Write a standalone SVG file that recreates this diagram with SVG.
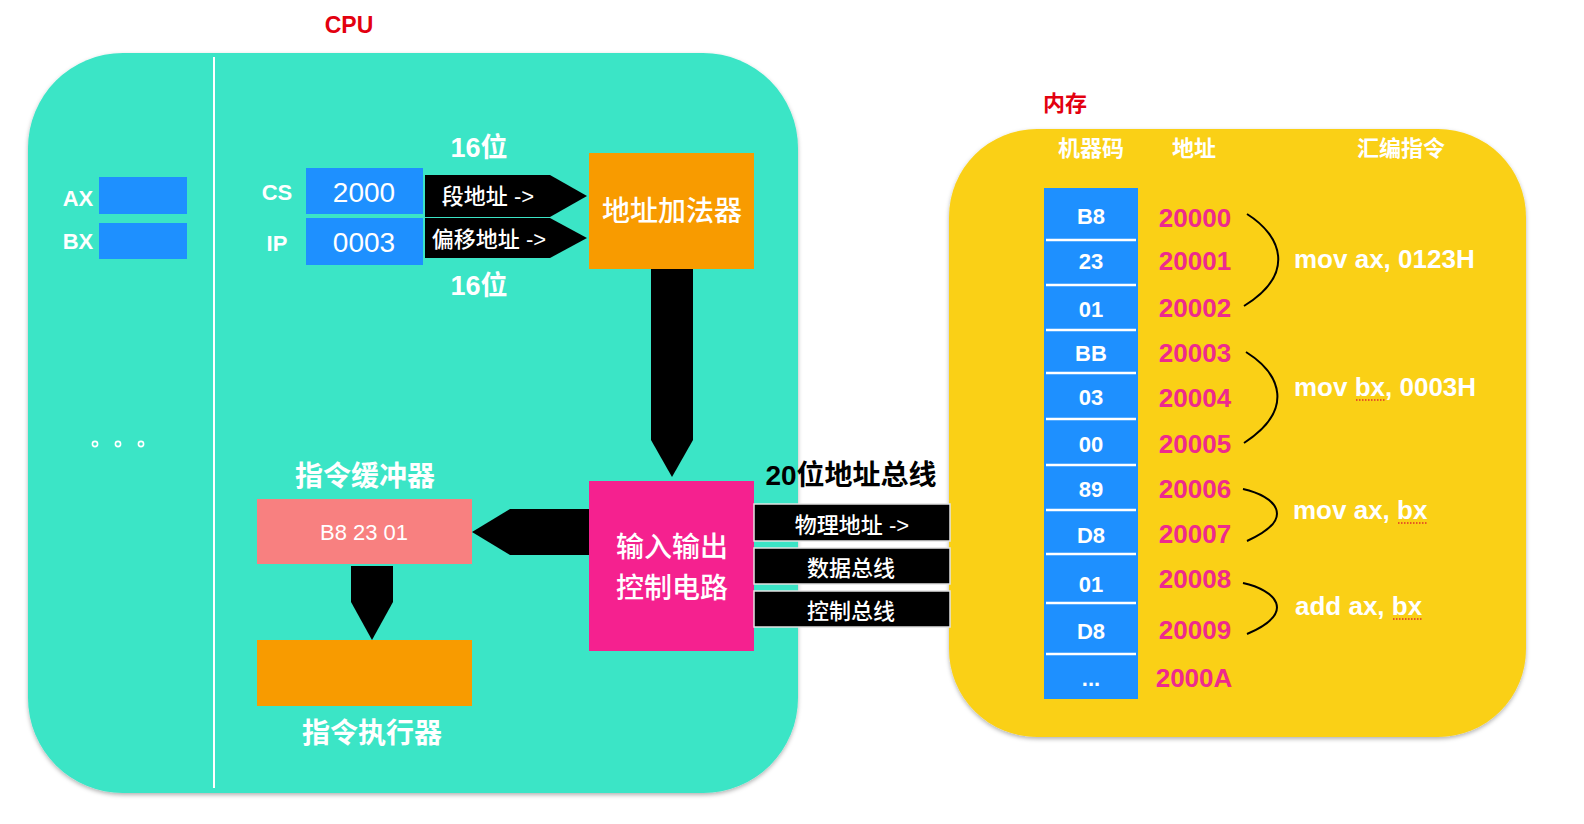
<svg xmlns="http://www.w3.org/2000/svg" width="1584" height="824" viewBox="0 0 1584 824">
<style>
  text { font-family: "Liberation Sans", "Noto Sans CJK SC", sans-serif; }
  .w { fill: #ffffff; }
  .b { font-weight: bold; }
  .m { font-weight: 500; }
  .mid { text-anchor: middle; }
  .reg { fill: #1E90FF; }
  .arrow { fill: #000000; }
  .bus { fill: #000000; stroke: #e2e2e2; stroke-width: 1.5; }
  .brace { fill: none; stroke: #000000; stroke-width: 2; }
  .addr { fill: #EE2A8D; font-weight: bold; font-size: 26px; text-anchor: middle; }
  .code { fill: #ffffff; font-weight: bold; font-size: 22px; text-anchor: middle; }
  .asm { fill: #ffffff; font-weight: bold; font-size: 26px; }
  .sep { stroke: #ffffff; stroke-width: 2.5; }
  .squig { stroke: #E0302A; stroke-width: 1.5; stroke-dasharray: 1.5 1.5; }
</style>
<defs>
  <filter id="shadow" x="-5%" y="-5%" width="110%" height="110%">
    <feDropShadow dx="0" dy="2" stdDeviation="2" flood-color="#000" flood-opacity="0.3"/>
  </filter>
</defs>
<rect width="1584" height="824" fill="#ffffff"/>

<g id="cpu">
  <rect x="28" y="53" width="770" height="740" rx="95" ry="95" fill="#3BE5C6" filter="url(#shadow)"/>
  <line x1="214" y1="57" x2="214" y2="788" stroke="#ffffff" stroke-width="2"/>
  <text x="349" y="33" class="b mid" font-size="23" fill="#E3000F">CPU</text>
  <circle cx="95" cy="444" r="2.6" fill="none" stroke="#ffffff" stroke-width="1.6"/>
  <circle cx="118" cy="444" r="2.6" fill="none" stroke="#ffffff" stroke-width="1.6"/>
  <circle cx="141" cy="444" r="2.6" fill="none" stroke="#ffffff" stroke-width="1.6"/>
</g>

<g id="reg-ax">
  <text x="78" y="206" class="w b mid" font-size="22">AX</text>
  <rect x="99" y="177" width="88" height="37" class="reg"/>
</g>
<g id="reg-bx">
  <text x="78" y="249" class="w b mid" font-size="22">BX</text>
  <rect x="99" y="223" width="88" height="36" class="reg"/>
</g>
<g id="reg-cs">
  <text x="277" y="200" class="w b mid" font-size="22">CS</text>
  <rect x="306" y="168" width="117" height="46" class="reg"/>
  <text x="364" y="202" class="w mid" font-size="28">2000</text>
</g>
<g id="reg-ip">
  <text x="277" y="251" class="w b mid" font-size="22">IP</text>
  <rect x="306" y="218" width="117" height="47" class="reg"/>
  <text x="364" y="252" class="w mid" font-size="28">0003</text>
</g>
<g id="label-16-top">
  <text x="479" y="157" class="w b mid" font-size="27">16位</text>
</g>
<g id="label-16-bottom">
  <text x="479" y="295" class="w b mid" font-size="27">16位</text>
</g>

<g id="adder">
  <rect x="589" y="153" width="165" height="116" fill="#F89B00"/>
  <text x="672" y="221" class="w m mid" font-size="28">地址加法器</text>
</g>

<g id="io">
  <rect x="589" y="481" width="165" height="170" fill="#F5218F"/>
  <text x="672" y="557" class="w m mid" font-size="28">输入输出</text>
  <text x="672" y="598" class="w m mid" font-size="28">控制电路</text>
</g>

<g id="buffer">
  <text x="365" y="486" class="w b mid" font-size="28">指令缓冲器</text>
  <rect x="257" y="499" width="215" height="65" fill="#F88080"/>
  <text x="364" y="540" class="w mid" font-size="22" style="font-weight:500">B8 23 01</text>
</g>

<g id="executor">
  <rect x="257" y="640" width="215" height="66" fill="#F89B00"/>
  <text x="372" y="743" class="w b mid" font-size="28">指令执行器</text>
</g>

<g id="memory">
  <text x="1065" y="111" class="b mid" font-size="22" fill="#E3000F">内存</text>
  <rect x="949" y="129" width="577" height="608" rx="88" ry="88" fill="#FAD015" filter="url(#shadow)"/>
  <text x="1091" y="156" class="w b mid" font-size="22">机器码</text>
  <text x="1194" y="156" class="w b mid" font-size="22">地址</text>
  <text x="1401" y="156" class="w b mid" font-size="22">汇编指令</text>
</g>

<g id="memory-cells">
  <rect x="1044" y="188" width="94" height="511" fill="#1E90FF"/>
  <line x1="1046" y1="240" x2="1136" y2="240" class="sep"/>
  <line x1="1046" y1="285" x2="1136" y2="285" class="sep"/>
  <line x1="1046" y1="330" x2="1136" y2="330" class="sep"/>
  <line x1="1046" y1="373" x2="1136" y2="373" class="sep"/>
  <line x1="1046" y1="419" x2="1136" y2="419" class="sep"/>
  <line x1="1046" y1="465" x2="1136" y2="465" class="sep"/>
  <line x1="1046" y1="510" x2="1136" y2="510" class="sep"/>
  <line x1="1046" y1="554" x2="1136" y2="554" class="sep"/>
  <line x1="1046" y1="603" x2="1136" y2="603" class="sep"/>
  <line x1="1046" y1="654" x2="1136" y2="654" class="sep"/>
  <text x="1091" y="224" class="code">B8</text>
  <text x="1091" y="269" class="code">23</text>
  <text x="1091" y="317" class="code">01</text>
  <text x="1091" y="361" class="code">BB</text>
  <text x="1091" y="405" class="code">03</text>
  <text x="1091" y="452" class="code">00</text>
  <text x="1091" y="497" class="code">89</text>
  <text x="1091" y="543" class="code">D8</text>
  <text x="1091" y="592" class="code">01</text>
  <text x="1091" y="639" class="code">D8</text>
  <text x="1091" y="686" class="code">...</text>
</g>

<g id="addresses">
  <text x="1195" y="227" class="addr">20000</text>
  <text x="1195" y="270" class="addr">20001</text>
  <text x="1195" y="317" class="addr">20002</text>
  <text x="1195" y="362" class="addr">20003</text>
  <text x="1195" y="407" class="addr">20004</text>
  <text x="1195" y="453" class="addr">20005</text>
  <text x="1195" y="498" class="addr">20006</text>
  <text x="1195" y="543" class="addr">20007</text>
  <text x="1195" y="588" class="addr">20008</text>
  <text x="1195" y="639" class="addr">20009</text>
  <text x="1194" y="687" class="addr">2000A</text>
</g>

<g id="instructions">
  <text x="1294" y="268" class="asm">mov ax, 0123H</text>
  <text x="1294" y="396" class="asm">mov bx, 0003H</text>
  <line x1="1356" y1="400" x2="1386" y2="400" class="squig"/>
  <text x="1293" y="519" class="asm">mov ax, bx</text>
  <line x1="1398" y1="523" x2="1428" y2="523" class="squig"/>
  <text x="1295" y="615" class="asm">add ax, bx</text>
  <line x1="1393" y1="619" x2="1423" y2="619" class="squig"/>
</g>

<g id="connectors">
  <polygon class="arrow" points="425,175 550,175 587,196 550,217 425,217"/>
  <text x="488" y="204" class="w m mid" font-size="22">段地址 -&gt;</text>
  <polygon class="arrow" points="425,218 550,218 587,238 550,258 425,258"/>
  <text x="489" y="247" class="w m mid" font-size="22">偏移地址 -&gt;</text>
  <polygon class="arrow" points="651,269 693,269 693,440 672,477 651,440"/>
  <polygon class="arrow" points="589,509 510,509 472,532 510,555 589,555"/>
  <polygon class="arrow" points="351,566 393,566 393,602 372,640 351,602"/>
  <text x="851" y="485" class="b mid" font-size="28" fill="#000000">20位地址总线</text>
  <rect x="754" y="504" width="196" height="37" class="bus"/>
  <text x="852" y="533" class="w m mid" font-size="22">物理地址  -&gt;</text>
  <rect x="754" y="548" width="196" height="36" class="bus"/>
  <text x="851" y="576" class="w m mid" font-size="22">数据总线</text>
  <rect x="754" y="591" width="196" height="36" class="bus"/>
  <text x="851" y="619" class="w m mid" font-size="22">控制总线</text>
  <path class="brace" d="M1247 214 C1282 236, 1296 274, 1244 306"/>
  <path class="brace" d="M1246 352 C1281 374, 1295 410, 1244 443"/>
  <path class="brace" d="M1243 489 C1275 496, 1298 518, 1247 541"/>
  <path class="brace" d="M1243 583 C1275 590, 1298 612, 1247 634"/>
</g>
</svg>
